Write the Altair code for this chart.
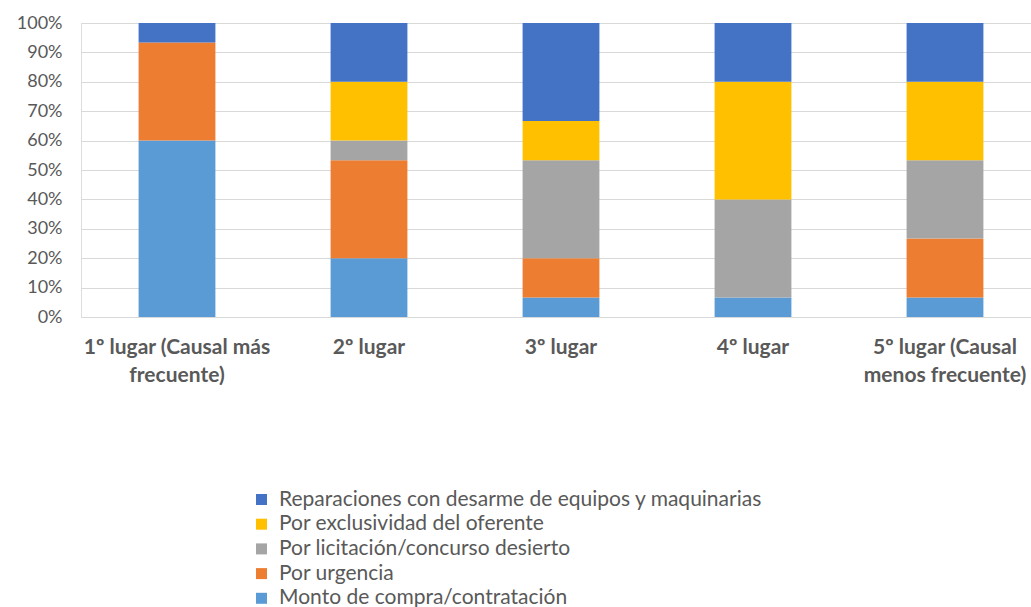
import altair as alt
import pandas as pd

categories = ["1º lugar (Causal más|frecuente)", "2º lugar", "3º lugar", "4º lugar",
              "5º lugar (Causal|menos frecuente)"]
series = ["Monto de compra/contratación", "Por urgencia", "Por licitación/concurso desierto",
          "Por exclusividad del oferente", "Reparaciones con desarme de equipos y maquinarias"]
colors = ["#5B9BD5", "#ED7D31", "#A5A5A5", "#FFC000", "#4472C4"]

monto = [60, 20, 6.67, 6.67, 6.67]
urgencia = [33.33, 33.33, 13.33, 0, 20]
licitacion = [0, 6.67, 33.33, 33.33, 26.67]
exclusividad = [0, 20, 13.33, 40, 26.67]
reparaciones = [6.67, 20, 33.33, 20, 20]

values = [monto, urgencia, licitacion, exclusividad, reparaciones]
rows = []
for si, (s, vals) in enumerate(zip(series, values)):
    for c, v in zip(categories, vals):
        rows.append({"cat": c, "serie": s, "value": v, "ord": si})
df = pd.DataFrame(rows)

FONT = "Lato"
chart = alt.Chart(df).mark_bar().encode(
    x=alt.X("cat:N", sort=categories, title=None,
            scale=alt.Scale(range=[0, 960], paddingInner=0.6, paddingOuter=0.3),
            axis=alt.Axis(labelAngle=0, labelExpr="split(datum.label, '|')",
                          labelFont=FONT, labelFontSize=21, labelFontWeight="bold",
                          labelColor="#595959", labelLineHeight=28, labelPadding=19,
                          labelLimit=400,
                          ticks=False, domain=False, labelBaseline="top")),
    y=alt.Y("value:Q", stack="normalize", title=None,
            axis=alt.Axis(format=".0%", values=[i / 10 for i in range(11)],
                          labelFont=FONT, labelFontSize=18, labelColor="#595959",
                          labelPadding=19, ticks=False, domain=False,
                          gridColor="#D9D9D9", gridWidth=1.2)),
    color=alt.Color("serie:N", title=None,
                    scale=alt.Scale(domain=series[::-1], range=colors[::-1]),
                    legend=alt.Legend(orient="none", legendX=170, legendY=466,
                                      direction="vertical", symbolType="square",
                                      symbolSize=121, symbolStrokeWidth=0,
                                      labelFont=FONT, labelFontSize=21,
                                      labelColor="#595959", rowPadding=2.7,
                                      labelOffset=7, labelLimit=700)),
    order=alt.Order("ord:Q"),
).properties(
    width=950, height=294,
    autosize=alt.AutoSizeParams(type="none"),
    padding={"left": 81, "top": 23, "right": 0, "bottom": 290},
).configure_view(stroke=None).configure(background="white")

chart.save("out.html", embed_options={"renderer": "svg", "actions": False})
